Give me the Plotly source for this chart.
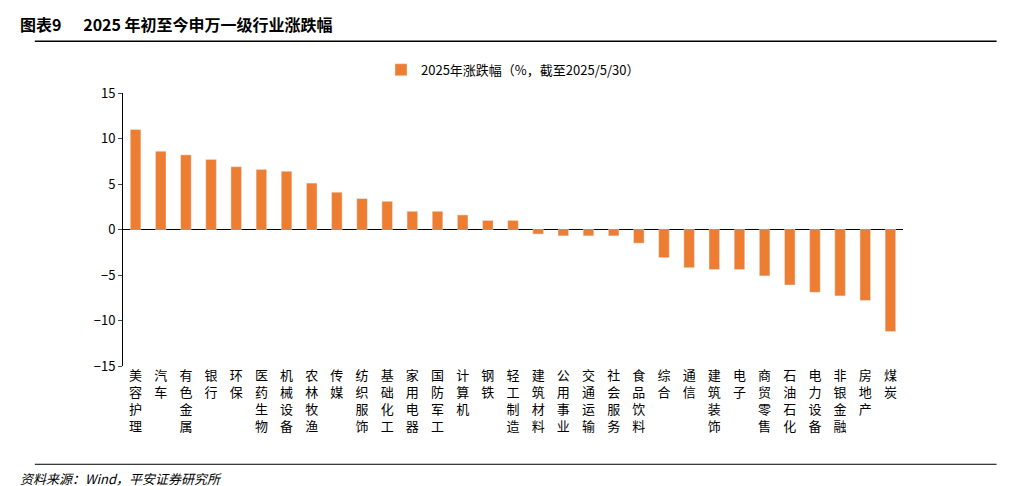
import plotly.graph_objects as go

categories = ["美容护理","汽车","有色金属","银行","环保","医药生物","机械设备","农林牧渔","传媒","纺织服饰",
              "基础化工","家用电器","国防军工","计算机","钢铁","轻工制造","建筑材料","公用事业","交通运输","社会服务",
              "食品饮料","综合","通信","建筑装饰","电子","商贸零售","石油石化","电力设备","非银金融","房地产","煤炭"]
values = [11.0,8.6,8.2,7.7,6.9,6.6,6.4,5.1,4.1,3.4,3.1,2.0,2.0,1.6,1.0,1.0,-0.5,-0.7,-0.7,-0.7,
          -1.5,-3.1,-4.2,-4.4,-4.4,-5.1,-6.1,-6.9,-7.3,-7.8,-11.2]
tick_vals = [-15,-10,-5,0,5,10,15]
series_name = "2025年涨跌幅（%，截至2025/5/30）"

labels = ["<br>".join(list(c)) for c in categories]
font = "Noto Sans CJK SC, Arial, sans-serif"

fig = go.Figure(go.Bar(x=labels, y=values, name=series_name, marker_color="#ED7D31", width=0.42, showlegend=True))
fig.update_layout(
    width=1017, height=486, plot_bgcolor="white", paper_bgcolor="white",
    margin=dict(l=115, r=122, t=85, b=128),
    font=dict(family=font, size=13, color="black"),
    legend=dict(orientation="h", x=0.5, xanchor="center", y=1.03, yanchor="bottom", font=dict(size=13)),
    xaxis=dict(showline=False, ticks="", tickangle=0, tickfont=dict(size=13), automargin=False),
    yaxis=dict(range=[-15,15], tickvals=tick_vals, showgrid=False, zeroline=True, zerolinecolor="black",
               zerolinewidth=1, showline=True, linecolor="black", ticks="outside", ticklen=4, automargin=False),
    shapes=[
        dict(type="line", xref="paper", yref="paper", x0=-0.113, x1=1.12, y0=1.19, y1=1.19, line=dict(color="black", width=1.5)),
        dict(type="line", xref="paper", yref="paper", x0=-0.113, x1=1.12, y0=-0.36, y1=-0.36, line=dict(color="black", width=1)),
    ],
    annotations=[
        dict(text="<b>图表9      2025 年初至今申万一级行业涨跌幅</b>", xref="paper", yref="paper", x=-0.135, y=1.2,
             xanchor="left", yanchor="bottom", showarrow=False, font=dict(size=16)),
        dict(text="<i>资料来源：Wind，平安证券研究所</i>", xref="paper", yref="paper", x=-0.135, y=-0.37,
             xanchor="left", yanchor="top", showarrow=False, font=dict(size=13)),
    ],
)
fig.write_html("out.html")
